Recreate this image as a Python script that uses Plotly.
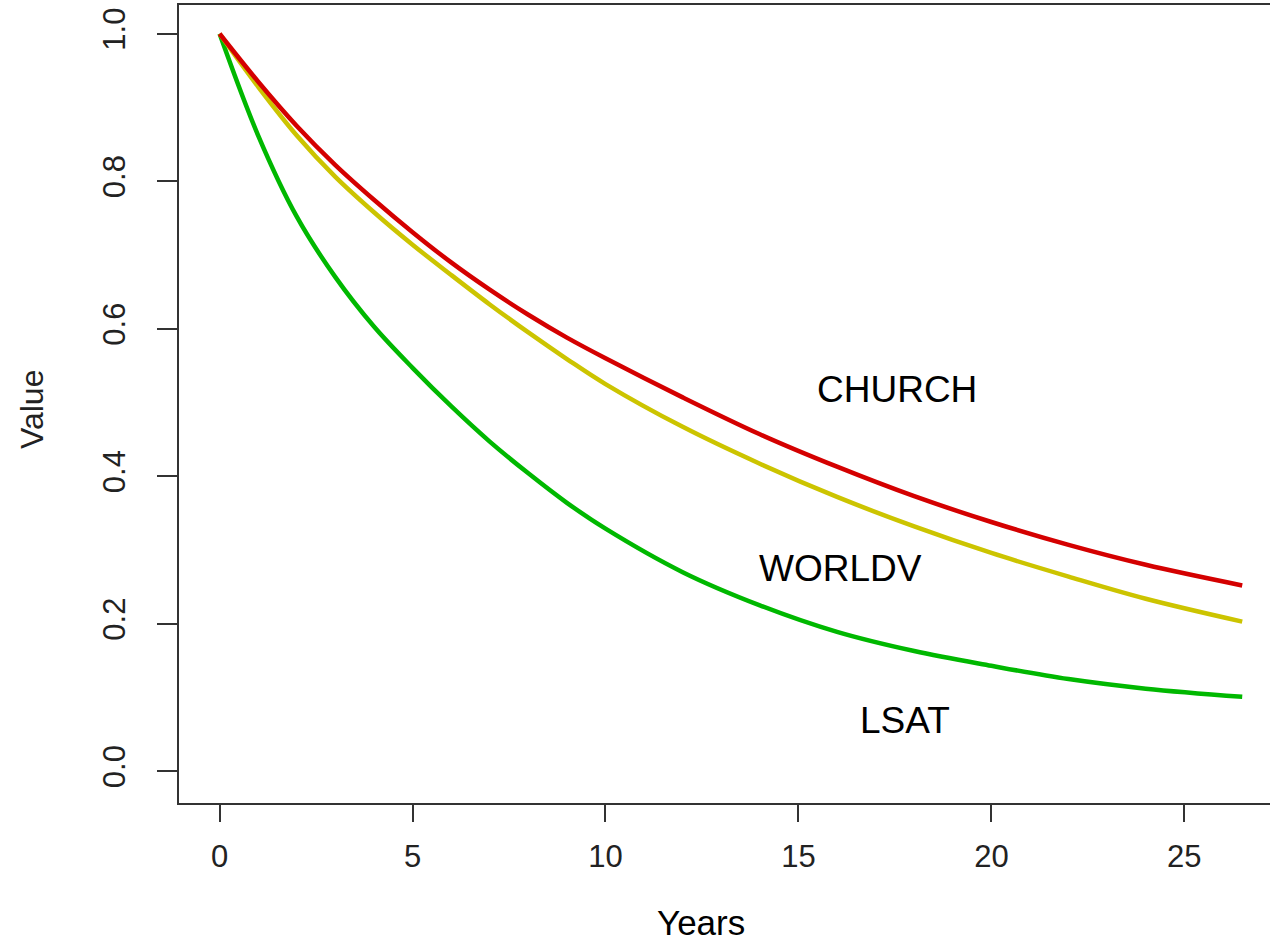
import plotly.graph_objects as go

years = [0, 1, 2, 3, 4, 5, 6, 7, 8, 9, 10, 12, 14, 16, 18, 20, 22, 24, 26.5]
church = [1.0, 0.935, 0.875, 0.822, 0.775, 0.731, 0.690, 0.653, 0.619, 0.588, 0.560,
          0.507, 0.457, 0.413, 0.373, 0.338, 0.307, 0.280, 0.252]
worldv = [1.0, 0.928, 0.862, 0.806, 0.758, 0.714, 0.673, 0.633, 0.595, 0.559, 0.525,
          0.467, 0.417, 0.372, 0.332, 0.296, 0.264, 0.234, 0.203]
lsat = [1.0, 0.862, 0.752, 0.670, 0.603, 0.547, 0.495, 0.447, 0.404, 0.364, 0.329,
        0.270, 0.225, 0.189, 0.163, 0.143, 0.125, 0.112, 0.101]

series_names = ["CHURCH", "WORLDV", "LSAT"]
series_colors = ["#D40000", "#CCC400", "#00B800"]
label_x = [17.55, 16.1, 17.76]
label_y = [0.517, 0.275, 0.069]
x_ticks = [0, 5, 10, 15, 20, 25]
y_ticks = [0.0, 0.2, 0.4, 0.6, 0.8, 1.0]

fig = go.Figure()
for vals, name, col in [(lsat, "LSAT", series_colors[2]),
                        (worldv, "WORLDV", series_colors[1]),
                        (church, "CHURCH", series_colors[0])]:
    fig.add_trace(go.Scatter(x=years, y=vals, mode="lines", name=name,
                             line=dict(color=col, width=4.5, shape="spline", smoothing=1.0),
                             showlegend=False, hoverinfo="skip"))

for name, lx, ly in zip(series_names, label_x, label_y):
    fig.add_annotation(x=lx, y=ly, text=name, showarrow=False,
                       font=dict(family="Liberation Sans, Arial", size=37, color="black"),
                       xanchor="center", yanchor="middle")

fig.add_annotation(xref="paper", yref="paper", x=(701 - 179) / 1091, y=-(922 - 803) / 798,
                   text="Years", showarrow=False, xanchor="center", yanchor="middle",
                   font=dict(family="Liberation Sans, Arial", size=35, color="black"))
fig.add_annotation(xref="paper", yref="paper", x=(32 - 179) / 1091, y=(803 - 410) / 798,
                   text="Value", showarrow=False, xanchor="center", yanchor="middle",
                   textangle=-90,
                   font=dict(family="Liberation Sans, Arial", size=32, color="#222"))

axis_font = dict(family="Liberation Sans, Arial", size=31, color="#222")
fig.update_xaxes(range=[-1.052, 27.22], tickvals=x_ticks, ticktext=[str(v) for v in x_ticks],
                 showline=True, mirror=True, linecolor="#333", linewidth=2,
                 ticks="outside", ticklen=17, tickwidth=2, tickcolor="#333",
                 ticklabelstandoff=8,
                 showgrid=False, zeroline=False, tickfont=axis_font)
fig.update_yaxes(range=[-0.043, 1.039], tickvals=y_ticks, ticktext=[f"{v:.1f}" for v in y_ticks],
                 showline=True, mirror=False, linecolor="#333", linewidth=2,
                 ticks="outside", ticklen=20, tickwidth=2, tickcolor="#333",
                 ticklabelstandoff=20,
                 showgrid=False, zeroline=False, tickfont=axis_font, tickangle=-90)

fig.update_layout(width=1270, height=947, margin=dict(l=179, r=0, t=5, b=144),
                  plot_bgcolor="white", paper_bgcolor="white")

fig.write_html("out.html")
